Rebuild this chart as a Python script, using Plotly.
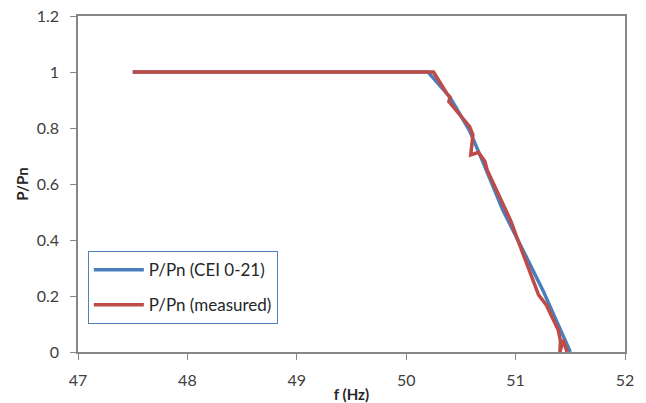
import plotly.graph_objects as go

# Data
cei_f = [47.5, 50.2, 50.4, 50.58, 50.7, 50.88, 51.04, 51.25, 51.5]
cei_p = [1.0, 1.0, 0.91, 0.79, 0.68, 0.51, 0.385, 0.22, 0.0]

meas_f = [47.5, 50.25, 50.37, 50.40, 50.39, 50.58, 50.61, 50.59, 50.66, 50.72,
          50.74, 50.89, 50.96, 51.02, 51.19, 51.21, 51.28, 51.39, 51.41,
          51.405, 51.435, 51.47]
meas_p = [1.0, 1.0, 0.924, 0.91, 0.894, 0.805, 0.775, 0.704, 0.713, 0.68,
          0.65, 0.519, 0.465, 0.40, 0.225, 0.204, 0.168, 0.079, 0.04,
          0.0, 0.043, 0.0]

x_ticks = [47, 48, 49, 50, 51, 52]
y_ticks = [0, 0.2, 0.4, 0.6, 0.8, 1.0, 1.2]

BLUE = "#4A7EBB"
RED = "#BE4B48"
FONT = "Lato"

fig = go.Figure()
fig.add_trace(go.Scatter(x=cei_f, y=cei_p, mode="lines", name="P/Pn (CEI 0-21)",
                         line=dict(color=BLUE, width=3.5), legendgroup="a"))
fig.add_trace(go.Scatter(x=meas_f, y=meas_p, mode="lines", name="P/Pn (measured)",
                         line=dict(color=RED, width=3.5), legendgroup="b"))

fig.update_layout(
    width=646, height=403,
    margin=dict(l=78, r=21, t=16, b=51),
    paper_bgcolor="white", plot_bgcolor="white",
    font=dict(family=FONT, size=16, color="#404040"),
    showlegend=True,
    legend=dict(x=0.018, y=0.30, xanchor="left", yanchor="top",
                bordercolor="#4F81BD", borderwidth=1, bgcolor="white",
                tracegroupgap=10, itemwidth=50,
                font=dict(size=17, color="#262626")),
    xaxis=dict(range=[47, 52], tickvals=x_ticks, showgrid=False, zeroline=False,
               showline=True, linecolor="#868686", linewidth=1.5, mirror=True,
               ticks="outside", ticklen=6, tickcolor="#868686", ticklabelstandoff=7,
               automargin=False,
               title=dict(text="<b>f (Hz)</b>", font=dict(size=15, color="#262626"))),
    yaxis=dict(range=[0, 1.2], tickvals=y_ticks, showgrid=False, zeroline=False,
               showline=True, linecolor="#868686", linewidth=1.5, mirror=True,
               ticks="outside", ticklen=6, tickcolor="#868686", ticklabelstandoff=8,
               automargin="left",
               title=dict(text="<b>P/Pn</b>", font=dict(size=15, color="#262626"), standoff=4)),
)

fig.write_html("out.html")
